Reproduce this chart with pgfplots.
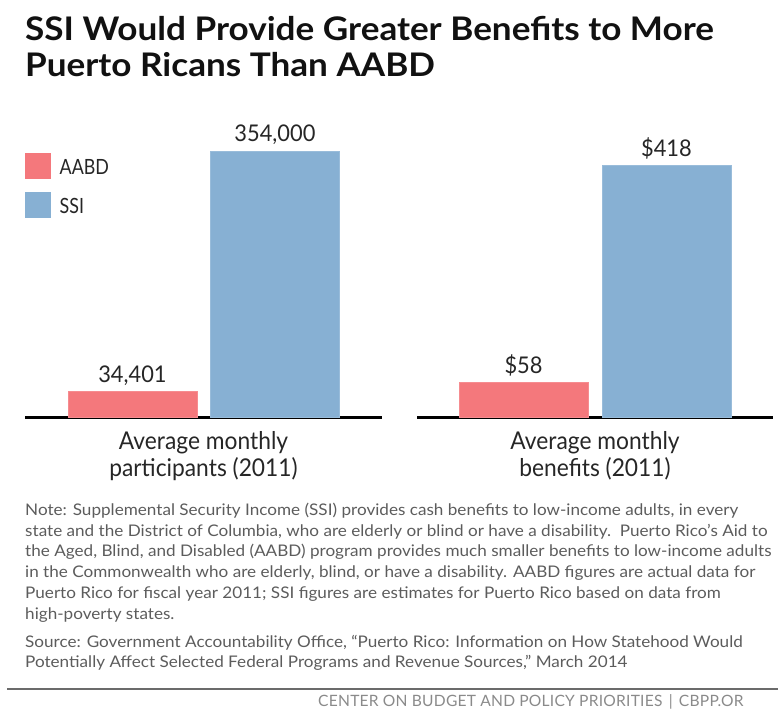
\documentclass[border=0pt]{standalone}
\usepackage{pgfplots}
\pgfplotsset{compat=1.18}
\usepackage{fontspec}
\setmainfont{Lato}
\newfontfamily\titlefont[FakeStretch=1.08]{Lato}
\newfontfamily\condfont[FakeStretch=0.85]{Lato}
\newfontfamily\catfont[FakeStretch=0.93]{Lato}
\newfontfamily\valfont[FakeStretch=0.95]{Lato}
\newfontfamily\notefont[FakeStretch=1.07]{Lato}
\newfontfamily\footfont[LetterSpace=1.5]{Lato}
\definecolor{pinkbar}{HTML}{F4787C}
\definecolor{bluebar}{HTML}{87B0D3}
\definecolor{notegray}{HTML}{5C5C5C}
\definecolor{footgray}{HTML}{8A8A8A}
\definecolor{rulegray}{HTML}{6B6B6B}
\definecolor{titleblack}{HTML}{111111}
\pgfplotsset{
  panel/.style={
    scale only axis, anchor=south west,
    ymin=0, axis x line=bottom, axis y line=none,
    axis line style={-, line width=3pt, black},
    xtick=\empty, ytick=\empty,
    ybar, bar width=129pt, bar shift=0pt, clip=false,
    nodes near coords,
    nodes near coords style={anchor=base, yshift=9.3pt, inner sep=0pt,
      font=\valfont\fontsize{23}{25}\selectfont, text=black!85},
    /pgf/number format/fixed, /pgf/number format/precision=0,
    /pgf/number format/1000 sep={,},
    /pgf/number format/assume math mode=true,
  },
}
\pgfplotstableread{
x y
0 34401
}\leftaabd
\pgfplotstableread{
x y
1 354000
}\leftssi
\pgfplotstableread{
x y
0 58
}\rightaabd
\pgfplotstableread{
x y
1 418
}\rightssi
\begin{document}
\begin{tikzpicture}
\path[use as bounding box] (0,0) rectangle (778pt,-711pt);
\clip (0,0) rectangle (778pt,-711pt);
% title
\node[anchor=base west,inner sep=0,text=titleblack,font=\titlefont\bfseries\fontsize{32.5}{36}\selectfont] at (25pt,-41pt) {SSI Would Provide Greater Benefits to More};
\node[anchor=base west,inner sep=0,text=titleblack,font=\titlefont\bfseries\fontsize{32.5}{36}\selectfont] at (25pt,-77pt) {Puerto Ricans Than AABD};

\begin{axis}[panel, name=leftax, at={(25pt,-417.7pt)},
  width=357pt, height=287.7pt,
  xmin=-0.754, xmax=1.751, ymax=381877,
  legend entries={AABD,SSI},
  legend style={draw=none, fill=none, at={(0,0.92)}, anchor=north west,
    inner sep=0pt, outer sep=0pt, row sep=13pt, column sep=8.7pt,
    font=\condfont\fontsize{21}{24}\selectfont, text=black!85,
    nodes={inner sep=0pt}, legend cell align=left},
  legend image code/.code={\fill[#1,draw=none] (0pt,-11pt) rectangle (26pt,15pt);},
]
\addplot[fill=pinkbar, draw=pinkbar!85!white, line width=0.8pt] table {\leftaabd};
\addplot[fill=bluebar, draw=bluebar!85!white, line width=0.8pt] table {\leftssi};
\end{axis}

\begin{axis}[panel, name=rightax, at={(417pt,-417.7pt)},
  width=356pt, height=287.7pt,
  xmin=-0.745, xmax=1.745, ymax=477.2,
  nodes near coords={\$\pgfmathprintnumber{\pgfplotspointmeta}},
]
\addplot[fill=pinkbar, draw=pinkbar!85!white, line width=0.8pt] table {\rightaabd};
\addplot[fill=bluebar, draw=bluebar!85!white, line width=0.8pt] table {\rightssi};
\end{axis}

% category labels
\begin{scope}[every node/.style={anchor=base, inner sep=0pt, text=black!85, font=\catfont\fontsize{24.5}{26}\selectfont}]
\node at ([yshift=-31.3pt]leftax.south) {Average monthly};
\node at ([yshift=-58.3pt]leftax.south) {participants (2011)};
\node at ([yshift=-31.3pt]rightax.south) {Average monthly};
\node at ([yshift=-58.3pt]rightax.south) {benefits (2011)};
\end{scope}

% notes
\begin{scope}[every node/.style={anchor=base west, inner sep=0pt, text=notegray, font=\notefont\fontsize{16}{18}\selectfont}]
\node at (25pt,-515.3pt) {Note: Supplemental Security Income (SSI) provides cash benefits to low-income adults, in every};
\node at (25pt,-536.1pt) {state and the District of Columbia, who are elderly or blind or have a disability.\ \ Puerto Rico’s Aid to};
\node at (25pt,-556.9pt) {the Aged, Blind, and Disabled (AABD) program provides much smaller benefits to low-income adults};
\node at (25pt,-577.7pt) {in the Commonwealth who are elderly, blind, or have a disability. AABD figures are actual data for};
\node at (25pt,-598.5pt) {Puerto Rico for fiscal year 2011; SSI figures are estimates for Puerto Rico based on data from};
\node at (25pt,-619.3pt) {high-poverty states.};
\node at (25pt,-647pt) {Source: Government Accountability Office, “Puerto Rico: Information on How Statehood Would};
\node at (25pt,-667.8pt) {Potentially Affect Selected Federal Programs and Revenue Sources,” March 2014};
\end{scope}

% footer
\draw[rulegray, line width=2.5pt] (7pt,-689pt) -- (778pt,-689pt);
\node[anchor=base west, inner sep=0pt, text=footgray, font=\footfont\fontsize{15.6}{18}\selectfont] at (318pt,-706.5pt) {CENTER ON BUDGET AND POLICY PRIORITIES\kern2pt\ |\ \kern2pt CBPP.OR};
\end{tikzpicture}
\end{document}
